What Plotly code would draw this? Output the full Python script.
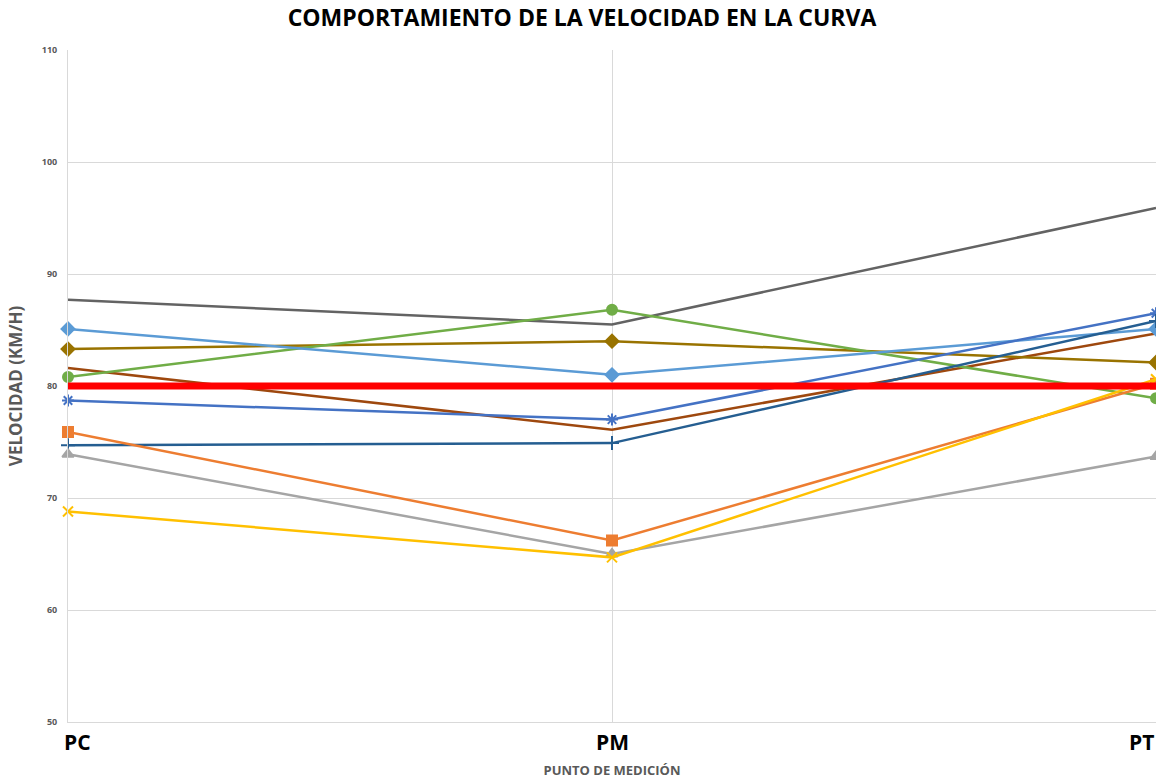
import plotly.graph_objects as go

categories = ["PC", "PM", "PT"]
y_ticks = [50, 60, 70, 80, 90, 100, 110]

s_darkgray = [87.7, 85.5, 95.9]
s_lightblue = [85.1, 81.0, 85.1]
s_olive = [83.3, 84.0, 82.1]
s_green = [80.8, 86.8, 78.9]
s_brown = [81.6, 76.1, 84.7]
s_blue = [78.7, 77.0, 86.5]
s_orange = [75.9, 66.2, 80.2]
s_darkblue = [74.7, 74.9, 85.8]
s_gray = [73.9, 65.0, 73.7]
s_yellow = [68.8, 64.7, 80.6]
limit = [80, 80, 80]

series = [
    ("Serie 9", s_darkgray, "#636363", None),
    ("Serie 8", s_brown, "#9E480E", None),
    ("Serie 10", s_olive, "#997300", "diamond"),
    ("Serie 6", s_green, "#70AD47", "circle"),
    ("Serie 5", s_lightblue, "#5B9BD5", "diamond"),
    ("Serie 1", s_blue, "#4472C4", "asterisk-open"),
    ("Serie 7", s_darkblue, "#255E91", "cross-thin-open"),
    ("Serie 3", s_gray, "#A5A5A5", "triangle-up"),
    ("Serie 2", s_orange, "#ED7D31", "square"),
    ("Serie 4", s_yellow, "#FFC000", "x-thin-open"),
]

xs = list(range(len(categories)))
fig = go.Figure()
for name, vals, color, sym in series:
    if sym:
        mk = dict(symbol=sym, size=10, color=color, line=dict(color=color, width=2))
        mode = "lines+markers"
    else:
        mk = None
        mode = "lines"
    fig.add_trace(go.Scatter(x=xs, y=vals, mode=mode, name=name, cliponaxis=False,
                             line=dict(color=color, width=2.5), marker=mk))
fig.add_trace(go.Scatter(x=xs, y=limit, mode="lines", name="Límite",
                         line=dict(color="#FF0000", width=7)))

anchors = ["left", "center", "right"]
shifts = [-6, 0, 0]
for i, c in enumerate(categories):
    fig.add_annotation(x=i, y=0, xref="x", yref="paper", text=c, showarrow=False,
                       xanchor=anchors[i], yanchor="top", yshift=-4, xshift=shifts[i],
                       font=dict(family="Open Sans", size=21, color="#000000", weight="bold"))

fig.update_layout(
    width=1156, height=779,
    margin=dict(l=68, r=0, t=50, b=57),
    paper_bgcolor="white", plot_bgcolor="white",
    showlegend=False,
    title=dict(text="COMPORTAMIENTO DE LA VELOCIDAD EN LA CURVA", x=582 / 1156, xanchor="center",
               y=1 - 18 / 779, yanchor="middle",
               font=dict(family="Open Sans", size=23, color="#000000", weight="bold")),
)
fig.update_xaxes(range=[0, 2], tickvals=xs, ticktext=["", "", ""], showgrid=True,
                 gridcolor="#D9D9D9", gridwidth=1, zeroline=False, showline=True,
                 linecolor="#D9D9D9", ticks="", automargin=False,
                 title=dict(text="PUNTO DE MEDICIÓN", standoff=42,
                            font=dict(family="Open Sans", size=13, color="#595959", weight="bold")))
fig.update_yaxes(range=[50, 110], tickvals=y_ticks, showgrid=True, gridcolor="#D9D9D9",
                 gridwidth=1, zeroline=False, showline=True, linecolor="#D9D9D9",
                 ticklabelstandoff=8, automargin=False,
                 tickfont=dict(family="Open Sans", size=9, color="#595959", weight="bold"),
                 title=dict(text="VELOCIDAD (KM/H)", standoff=14,
                            font=dict(family="Open Sans", size=17, color="#595959", weight="bold")))

fig.write_html("out.html", config={"displayModeBar": False},
               post_script="document.body.style.margin='0px';document.body.style.overflow='hidden';")
